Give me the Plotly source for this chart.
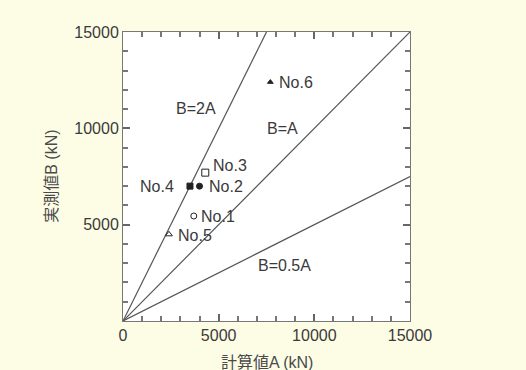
import plotly.graph_objects as go

# Test results: calculated value A vs measured value B (kN)
specimens = ["No.1", "No.2", "No.3", "No.4", "No.5", "No.6"]
calc_a = [3700, 4000, 4300, 3500, 2400, 7700]
meas_b = [5450, 7000, 7700, 7000, 4500, 12400]
symbols = ["circle-open", "circle", "square-open", "square", "triangle-up-open", "triangle-up"]

# Reference ratio lines B = k * A
ratios = [2.0, 1.0, 0.5]
ratio_labels = ["B=2A", "B=A", "B=0.5A"]
ratio_label_x = [3800, 8350, 8450]
ratio_label_y = [11050, 10000, 2900]

axis_max = 15000
major_step = 5000
minor_step = 1000

FONT = "Liberation Sans, Arial, Noto Sans CJK JP, sans-serif"
TXT = "#3a3a3a"
LINE = "#555555"

fig = go.Figure()

for k in ratios:
    x_end = min(axis_max, axis_max / k)
    fig.add_trace(go.Scatter(
        x=[0, x_end], y=[0, k * x_end], mode="lines",
        line=dict(color=LINE, width=1.2), showlegend=False, hoverinfo="skip"))

sizes = {"circle-open": 6, "circle": 6, "square-open": 7, "square": 6,
         "triangle-up-open": 6, "triangle-up": 5}
for name, a, b, s in zip(specimens, calc_a, meas_b, symbols):
    fig.add_trace(go.Scatter(
        x=[a], y=[b], mode="markers", name=name, showlegend=False,
        marker=dict(symbol=s, size=sizes[s], color="#222222",
                    line=dict(color="#222222", width=1))))

# label offsets (pixels) relative to each marker
label_offsets = {
    "No.1": ("left", 5, 0),
    "No.2": ("left", 7, 0),
    "No.3": ("left", 6, 7),
    "No.4": ("right", -14, 0),
    "No.5": ("left", 7, -1),
    "No.6": ("left", 7, 0),
}
for name, a, b in zip(specimens, calc_a, meas_b):
    anchor, dx, dy = label_offsets[name]
    fig.add_annotation(x=a, y=b, text=name, showarrow=False, xanchor=anchor,
                       yanchor="middle", xshift=dx, yshift=dy,
                       font=dict(family=FONT, size=16, color=TXT))

for lab, lx, ly in zip(ratio_labels, ratio_label_x, ratio_label_y):
    fig.add_annotation(x=lx, y=ly, text=lab, showarrow=False,
                       font=dict(family=FONT, size=16, color=TXT))

# axis titles
fig.add_annotation(xref="paper", yref="paper", x=0.5, y=-0.143,
                   text="計算値A (kN)", showarrow=False, yanchor="middle",
                   font=dict(family=FONT, size=16, color="#4a4a4a"))
fig.add_annotation(xref="paper", yref="paper", x=-0.25, y=0.5,
                   text="実測値B (kN)", showarrow=False, textangle=-90,
                   xanchor="center", yanchor="middle",
                   font=dict(family=FONT, size=16, color="#4a4a4a"))

axis_common = dict(
    range=[0, axis_max], tick0=0, dtick=major_step, tickformat="d",
    ticks="inside", ticklen=7, tickwidth=2, tickcolor="#666666",
    showline=True, linecolor="#777777", linewidth=1, mirror="ticks",
    gridcolor="#ffffff", zerolinecolor="#777777",
    tickfont=dict(family=FONT, size=16, color=TXT),
    minor=dict(ticks="inside", dtick=minor_step, ticklen=5, tickwidth=2,
               tickcolor="#777777"),
)

fig.update_layout(
    width=526, height=370,
    margin=dict(l=123, r=116, t=32, b=49),
    paper_bgcolor="#fdfde6", plot_bgcolor="#ffffff",
    xaxis=dict(**axis_common),
    yaxis=dict(**axis_common, showticklabels=True),
)
# the shared origin "0" comes from the x axis; hide the y-axis one
fig.update_yaxes(tickvals=[5000, 10000, 15000], tickmode="array")

fig.write_html("out.html")
